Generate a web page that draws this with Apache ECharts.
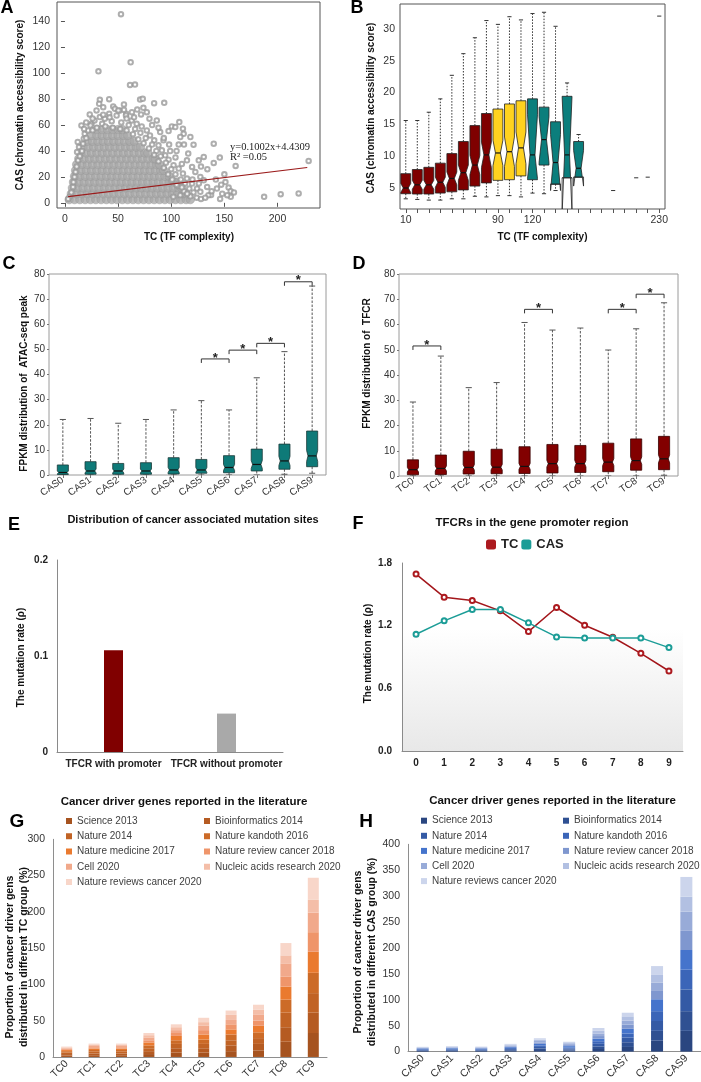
<!DOCTYPE html>
<html><head><meta charset="utf-8">
<script src="https://cdn.jsdelivr.net/npm/echarts@6/dist/echarts.min.js"></script>
<style>html,body{margin:0;padding:0;background:#fff}#c{width:701px;height:1082px}</style>
</head><body><div id="c"></div>
<script>
// ---------- Panel A : scatter ----------
const aTicksX = [0, 50, 100, 150, 200];
const aTicksY = [0, 20, 40, 60, 80, 100, 120, 140];
const aCoreRows = [
  [2.5, [4, 9, 14, 19, 24, 29, 34, 39, 44, 49, 54, 59, 64, 69, 74, 79, 84, 89, 94, 99, 104, 109, 114, 118]],
  [7, [6, 11, 16, 21, 26, 31, 36, 41, 46, 51, 56, 61, 66, 71, 76, 81, 86, 91, 96, 101, 106, 111, 114]],
  [11.5, [7, 12, 17, 22, 27, 32, 37, 42, 47, 52, 57, 62, 67, 72, 77, 82, 87, 92, 97, 102, 107, 110]],
  [16, [8, 13, 18, 23, 28, 33, 38, 43, 48, 53, 58, 63, 68, 73, 78, 83, 88, 93, 98, 103, 106]],
  [20.5, [9, 14, 19, 24, 29, 34, 39, 44, 49, 54, 59, 64, 69, 74, 79, 84, 89, 94, 98]],
  [25, [10, 15, 20, 25, 30, 35, 40, 45, 50, 55, 60, 65, 70, 75, 80, 85, 90, 93]],
  [29.5, [11, 16, 21, 26, 31, 36, 41, 46, 51, 56, 61, 66, 71, 76, 81, 86, 89]],
  [34, [13, 18, 23, 28, 33, 38, 43, 48, 53, 58, 63, 68, 73, 78, 83, 85]],
  [38.5, [15, 20, 25, 30, 35, 40, 45, 50, 55, 60, 65, 70, 75, 78]],
  [43, [17, 22, 27, 32, 37, 42, 47, 52, 57, 62, 67, 71]],
  [47.5, [21, 26, 31, 36, 41, 46, 51, 56, 61, 65]],
  [52, [25, 30, 35, 40, 45, 50, 55, 59]],
  [56.5, [30, 35, 40, 45, 50, 54]]
];
const aFringe = [
  [52.7,145.6],[61.8,108.5],[31.5,101.5],[61.2,91],[65.9,91.3],[32.8,79.5],[41.6,80],[32.2,76.4],[45.4,74.4],[55.5,75.9],
  [70.7,79.7],[73.2,80.3],[83.9,76.9],[93.4,77.2],[73.8,73.3],[77,70],[71.6,68.2],[79.5,64.9],[15.5,59.7],[23.3,68.2],
  [25,61],[29.7,71.3],[36,73.8],[51.7,71.3],[57.7,68.7],[48.6,67.4],[100.6,59],[107.6,62.3],[111,57.2],[111.7,53.3],
  [108.5,50.8],[118,50.8],[121,44.9],[112,45],[140,45.6],[140,30.8],[145.7,34.9],[150,22],[151,16],[154,11.8],
  [156,9],[160.6,28.5],[159,8],[156,4.6],[152.7,5.9],[143,11],[137.5,6],[133.8,12.3],[127.4,20],[130.6,35.4],
  [125.9,32.8],[114.8,32.8],[119.6,27.7],[122.7,23.8],[130.6,17.4],[135,5.9],[187.4,4.6],[203,6.7],[219.9,7.2],[229.3,32.3],
  [108.5,5.9],[102,4.6],[97.5,55.4],[92.7,48.2],[89.6,54.6],[103.8,58.5],[86.4,63.6],[4.4,4.6],[3,3],[7.6,12.3],
  [10,23.8],[12.3,32.8],[11.4,39.2],[13.2,43],[17,45.6],[17.7,49.5],[18.6,53.3],[21.8,55.9],[24,59.7],[27.8,63.6],
  [32.8,66.2],[37.5,64.9],[41.6,68.7],[47,72.6],[50.2,71.3],[55.5,71.8],[57.4,67.4],[62.8,63.6],[67.5,61],[72.2,59],
  [77,55.9],[80,52],[84,48.2],[88,44.4],[91.2,40.5],[94.3,36.7],[97.5,33.3],[102.2,29],[107,26.4],[111,22.6],
  [114.8,18.7],[119.6,14.9],[124.3,11],[127.4,8.5],[20,50],[26,56],[35,61],[44,63],[53,62],[60,60],
  [66,57],[71,54],[76,50],[82,45],[86,40],[90,36],[95,31],[100,26],[104,22],[109,18],
  [113,15],[117,11],[121,8],[124,4],[128,3],[118,5],[112,9],[106,13],[100,17],[6,8],
  [8,16],[9,20],[11,28],[14,36],[16,40],[45,58],[38,59],[30,58],[52,57],[58,56],
  [64,53],[69,49],[74,46],[79,42],[84,37],[88,32],[93,27],[97,22],[101,18],[105,14],
  [110,12],[115,7],[132,4],[138,9],[146,3],[116,38],[105,40],[98,45],[110,30],[120,18],
  [126,15],[134,26],[128,28],[142,18],[148,7],[147,14],[36,68],[42,66],[58,65],[65,66],
  [63,70],[26,65],[20,62],[18,57],[12,47],[68,72],[82,60],[88,58],[93,50],[99,40],[104,35],[107,45]
];
const aRegLine = [[3, 4.73], [228, 27.28]];

// ---------- Panel B : notched boxes by TC ----------
const bCats = ['10','20','30','40','50','60','70','80','90','100','110','120','130','140','150','160','170','180','190','200','210','220','230'];
const bTicksY = [5, 10, 15, 20, 25, 30];
const bHigh   = [15.6,15.6,16.9,19.0,22.7,26.1,28.6,31.3,30.7,31.9,31.4,32.4,32.6,30.4,21.5,13.4];
const bQ3     = [7.25,7.9,8.25,8.9,10.4,12.3,14.8,16.7,17.4,18.2,18.7,19.0,17.7,15.4,19.4,12.3];
const bMed    = [5.0,5.5,5.5,5.9,6.5,7.4,8.6,10.2,10.5,10.7,11.3,10.2,12.6,9.0,10.2,8.1];
const bQ1     = [4.1,4.05,4.05,4.2,4.4,4.7,5.3,5.8,6.2,6.3,6.9,6.3,8.6,5.6,6.6,6.7];
const bLow    = [3.3,3.2,3.1,3.1,3.3,3.3,3.7,3.6,3.8,3.8,3.6,4.2,4.1,4.6,6.6,6.7];
const bNotchLo= [4.3,4.8,4.8,5.1,5.5,6.2,7.1,8.2,8.5,8.4,8.8,6.5,9.0,4.6,1.0,5.3];
const bNotchHi= [5.7,6.2,6.2,6.7,7.5,8.6,10.1,12.2,12.5,13.0,13.8,16.5,16.2,13.4,19.4,10.9];
const bGroup  = [0,0,0,0,0,0,0,0,1,1,1,2,2,2,2,2];
const bSingleIdx = [18, 20, 21, 22];
const bSingleVal = [4.6, 6.6, 6.7, 32.0];

// ---------- Panel C : FPKM of ATAC-seq peak by CAS ----------
const cCats  = ['CAS0','CAS1','CAS2','CAS3','CAS4','CAS5','CAS6','CAS7','CAS8','CAS9'];
const cHigh  = [22.1,22.5,20.6,22.1,25.9,29.6,25.9,38.7,49.1,75.2];
const cQ3    = [4.0,5.3,4.6,4.9,6.9,6.2,7.7,10.3,12.3,17.5];
const cMed   = [1.0,1.6,1.6,1.6,2.0,2.0,3.0,4.2,5.6,7.6];
const cQ1    = [0.2,0.3,0.3,0.3,0.4,0.7,0.9,1.6,2.3,3.3];
const cLow   = [0,0,0,0,0,0,0,0,0.3,0.7];
const cNotch = [0.6,0.8,0.8,0.8,1.0,1.0,1.2,1.6,1.8,2.2];
const cSig   = [[5,6,46.2],[6,7,49.7],[7,8,52.4],[8,9,76.9]];

// ---------- Panel D : FPKM of TFCR by TC ----------
const dCats  = ['TC0','TC1','TC2','TC3','TC4','TC5','TC6','TC7','TC8','TC9'];
const dHigh  = [29.3,47.5,35.0,37.0,60.8,57.8,58.6,49.9,58.3,68.6];
const dQ3    = [6.4,8.3,9.8,10.6,11.6,12.5,12.1,13.0,14.7,15.7];
const dMed   = [2.5,3.0,3.4,3.5,3.8,4.9,4.9,5.5,6.1,6.8];
const dQ1    = [0.5,0.6,0.8,0.9,1.0,1.2,1.4,1.7,2.3,2.5];
const dLow   = [0,0,0,0,0,0,0,0,0,0.3];
const dNotch = [0.9,1.0,1.1,1.1,1.2,1.3,1.3,1.4,1.5,1.6];
const dSig   = [[0,1,51.5],[4,5,66],[7,8,66],[8,9,72]];

// ---------- Panel E ----------
const eCats = ['TFCR with promoter', 'TFCR without promoter'];
const eVals = [0.106, 0.040];

// ---------- Panel F ----------
const fCats = ['0','1','2','3','4','5','6','7','8','9'];
const fTC   = [1.694,1.473,1.441,1.342,1.143,1.374,1.204,1.089,0.935,0.766];
const fCAS  = [1.118,1.246,1.355,1.355,1.227,1.092,1.083,1.083,1.083,0.990];

// ---------- Panels G / H : stacked literature sources ----------
const sources = ['Science 2013','Bioinformatics 2014','Nature 2014','Nature kandoth 2016','Nature medicine 2017','Nature review cancer 2018','Cell 2020','Nucleic acids research 2020','Nature reviews cancer 2020'];
const gCats = ['TC0','TC1','TC2','TC3','TC4','TC5','TC6','TC7','TC8','TC9'];
const gScience2013  = [2,2.4,2.4,4,6,6,8,9,21,33];
const gBioinf2014   = [2,2.4,2.4,4,6,6,8,9,20,28];
const gNature2014   = [2,2.4,2.4,4,6,6,7,8,20,27];
const gKandoth2016  = [2,2.4,2.4,4,5,6,8,8,18,28];
const gNatMed2017   = [1.5,2,2,4,6,7,7,9,18,29];
const gNRC2018      = [1.2,1.8,1.8,3,4,6,7,7,14,27];
const gCell2020     = [1.2,1.8,1.8,4,4,6,6,8,18,27];
const gNAR2020      = [1.2,1.6,1.6,3,4,5,7,7,11,18];
const gNRC2020      = [1.2,1.6,1.6,3,4,6,6,7,17,30];
const hCats = ['CAS0','CAS1','CAS2','CAS3','CAS4','CAS5','CAS6','CAS7','CAS8','CAS9'];
const hScience2013  = [1.2,1.3,1.2,1.7,3,2,5,9,21,40];
const hBioinf2014   = [1.2,1.3,1.2,1.7,3,2,5,9,19,38];
const hNature2014   = [1.2,1.3,1.2,1.7,3,2,5,9,19,42];
const hKandoth2016  = [1.2,1.3,1.2,1.7,3,2,5,8,19,38];
const hNatMed2017   = [1.2,1.3,1.2,1.7,3,2.5,5,9,23,38];
const hNRC2018      = [0.8,1,0.9,1.6,2.7,2,5,8,16,37];
const hCell2020     = [0.8,1,0.9,1.6,2.7,2,5,8,16,37];
const hNAR2020      = [0.8,1,0.9,1.6,2.7,2,5,8,16,29];
const hNRC2020      = [0.8,1,0.9,1.6,2.6,2.5,5.5,7,16,38];

// ---------- styling ----------
const FF = '"Liberation Sans", Arial, sans-serif';
const gColors = ['#a6531f','#b55b22','#c16325','#cc6b28','#ea7a2f','#ef956a','#f1a98b','#f4bea8','#f8d6c9'];
const hColors = ['#2a4680','#2f5092','#345aa5','#3b65b8','#4574cc','#7f97cf','#98abd8','#b2c0e2','#ccd5ec'];
const gSeriesData = [gScience2013,gBioinf2014,gNature2014,gKandoth2016,gNatMed2017,gNRC2018,gCell2020,gNAR2020,gNRC2020];
const hSeriesData = [hScience2013,hBioinf2014,hNature2014,hKandoth2016,hNatMed2017,hNRC2018,hCell2020,hNAR2020,hNRC2020];

const aCore = aCoreRows.flatMap(([y, xs]) => xs.map(x => [x, y]));
const bBoxData = bMed.map((m, i) => [i, bLow[i], bQ1[i], bNotchLo[i], m, bNotchHi[i], bQ3[i], bHigh[i], bGroup[i]])
  .concat(bSingleIdx.map((k, j) => [k, bSingleVal[j], bSingleVal[j], bSingleVal[j], bSingleVal[j], bSingleVal[j], bSingleVal[j], bSingleVal[j], 0]));
const cBoxData = cMed.map((m, i) => [i, cLow[i], cQ1[i], m - cNotch[i], m, m + cNotch[i], cQ3[i], cHigh[i], 0]);
const dBoxData = dMed.map((m, i) => [i, dLow[i], dQ1[i], m - dNotch[i], m, m + dNotch[i], dQ3[i], dHigh[i], 0]);

function makeBox(opt) {
  return function (params, api) {
    const x = api.value(0);
    const low = api.value(1), q1 = api.value(2), nLo = api.value(3), med = api.value(4),
          nHi = api.value(5), q3 = api.value(6), high = api.value(7), grp = api.value(8);
    const band = api.size([1, 0])[0];
    const cx = api.coord([x, med])[0];
    const Y = v => api.coord([x, v])[1];
    const hw = band * opt.width / 2, iw = hw * opt.inner, cw = band * opt.cap / 2;
    const ch = [];
    if (q1 === q3) {
      ch.push({type: 'line', shape: {x1: cx - cw, y1: Y(med), x2: cx + cw, y2: Y(med)}, style: {stroke: '#333', lineWidth: 1}});
      return {type: 'group', children: ch};
    }
    const ws = {stroke: opt.whisker, lineWidth: 1, lineDash: opt.dash};
    const cs = {stroke: opt.whisker, lineWidth: 1};
    if (high > q3) {
      ch.push({type: 'line', shape: {x1: cx, y1: Y(q3), x2: cx, y2: Y(high)}, style: ws});
      ch.push({type: 'line', shape: {x1: cx - cw, y1: Y(high), x2: cx + cw, y2: Y(high)}, style: cs});
    }
    if (low < q1) {
      ch.push({type: 'line', shape: {x1: cx, y1: Y(q1), x2: cx, y2: Y(low)}, style: ws});
      ch.push({type: 'line', shape: {x1: cx - cw, y1: Y(low), x2: cx + cw, y2: Y(low)}, style: cs});
    }
    const yq1 = Y(q1), yq3 = Y(q3), ym = Y(med), ynl = Y(nLo), ynh = Y(nHi);
    const off = (yy, yEdge) => hw - (hw - iw) * ((yy - yEdge) / (ym - yEdge));
    const pts = [];
    if (nHi <= q3) pts.push([cx - hw, yq3], [cx - hw, ynh]); else pts.push([cx - off(yq3, ynh), yq3]);
    pts.push([cx - iw, ym]);
    if (nLo >= q1) pts.push([cx - hw, ynl], [cx - hw, yq1], [cx + hw, yq1], [cx + hw, ynl]);
    else { const o = off(yq1, ynl); pts.push([cx - o, yq1], [cx + o, yq1]); }
    pts.push([cx + iw, ym]);
    if (nHi <= q3) pts.push([cx + hw, ynh], [cx + hw, yq3]); else pts.push([cx + off(yq3, ynh), yq3]);
    ch.push({type: 'polygon', shape: {points: pts}, style: {fill: opt.colors[grp], stroke: opt.stroke, lineWidth: 0.8}});
    const ext = {fill: '#fff', stroke: '#222', lineWidth: 0.8};
    if (nLo < q1) {
      const o = off(yq1, ynl);
      ch.push({type: 'polygon', shape: {points: [[cx - hw, yq1], [cx - hw, ynl], [cx - o, yq1]]}, style: ext});
      ch.push({type: 'polygon', shape: {points: [[cx + hw, yq1], [cx + hw, ynl], [cx + o, yq1]]}, style: ext});
      ch.push({type: 'line', shape: {x1: cx - hw, y1: yq1, x2: cx + hw, y2: yq1}, style: {stroke: '#222', lineWidth: 0.8}});
    }
    if (nHi > q3) {
      const o = off(yq3, ynh);
      ch.push({type: 'polygon', shape: {points: [[cx - hw, yq3], [cx - hw, ynh], [cx - o, yq3]]}, style: ext});
      ch.push({type: 'polygon', shape: {points: [[cx + hw, yq3], [cx + hw, ynh], [cx + o, yq3]]}, style: ext});
    }
    ch.push({type: 'line', shape: {x1: cx - iw, y1: ym, x2: cx + iw, y2: ym}, style: {stroke: '#111', lineWidth: 1.2}});
    return {type: 'group', children: ch};
  };
}
function bracket(params, api) {
  const p1 = api.coord([api.value(0), api.value(2)]);
  const p2 = api.coord([api.value(1), api.value(2)]);
  const d = 4;
  return {type: 'group', children: [
    {type: 'polyline', shape: {points: [[p1[0], p1[1] + d], [p1[0], p1[1]], [p2[0], p2[1]], [p2[0], p2[1] + d]]},
     style: {stroke: '#333', lineWidth: 1, fill: 'none'}},
    {type: 'text', style: {text: '*', x: (p1[0] + p2[0]) / 2, y: p1[1] - 1, font: 'bold 13px ' + FF, fill: '#222',
      textAlign: 'center', align: 'center', textVerticalAlign: 'middle', verticalAlign: 'middle'}}
  ]};
}

function txt(text, x, y, font, opts) {
  opts = opts || {};
  return {type: 'text', x: x, y: y, rotation: opts.rot || 0, silent: true,
    style: {text: text, font: font, fill: opts.fill || '#111',
      textAlign: opts.align || 'center', align: opts.align || 'center',
      textVerticalAlign: 'middle', verticalAlign: 'middle', lineHeight: opts.lh}};
}
const R90 = Math.PI / 2;
const B10 = 'bold 10px ' + FF;

const tickLab = {fontSize: 10.5, color: '#333', fontFamily: FF};
const noSplit = {show: false};

const option = {
  animation: false,
  grid: [
    {left: 57, top: 2, width: 263, height: 206, show: true, borderColor: '#555', borderWidth: 1},
    {left: 400, top: 4, width: 265, height: 205, show: true, borderColor: '#555', borderWidth: 1},
    {left: 49, top: 274, width: 277, height: 201, show: true, borderColor: '#9a9a9a', borderWidth: 1},
    {left: 399, top: 274, width: 279, height: 202, show: true, borderColor: '#9a9a9a', borderWidth: 1},
    {left: 57, top: 560, width: 226, height: 192},
    {left: 402, top: 563, width: 281, height: 188, show: true, borderWidth: 0,
      backgroundColor: {type: 'linear', x: 0, y: 0, x2: 0, y2: 1, colorStops: [
        {offset: 0, color: '#ffffff'}, {offset: 0.35, color: '#ffffff'}, {offset: 1, color: '#e8e8e8'}]}},
    {left: 53, top: 839.3, width: 274, height: 218.4},
    {left: 408, top: 844.3, width: 293, height: 208.4}
  ],
  xAxis: [
    {gridIndex: 0, type: 'value', min: -7.5, max: 240, splitLine: noSplit, axisLine: {show: false},
      axisTick: {show: true, customValues: aTicksX, length: 4, lineStyle: {color: '#555'}},
      axisLabel: Object.assign({customValues: aTicksX, margin: 6}, tickLab)},
    {gridIndex: 1, type: 'category', data: bCats, splitLine: noSplit, axisLine: {show: false},
      axisTick: {show: true, alignWithLabel: true, interval: 0, length: 4, lineStyle: {color: '#555'}},
      axisLabel: Object.assign({interval: (i) => [0, 8, 11, 22].indexOf(i) >= 0, margin: 6}, tickLab)},
    {gridIndex: 2, type: 'category', data: cCats, axisLine: {show: false},
      axisTick: {show: true, alignWithLabel: true, length: 3, lineStyle: {color: '#777'}},
      axisLabel: {rotate: 35, fontSize: 10, color: '#333', fontFamily: FF, margin: 4, interval: 0}},
    {gridIndex: 3, type: 'category', data: dCats, axisLine: {show: false},
      axisTick: {show: true, alignWithLabel: true, length: 3, lineStyle: {color: '#777'}},
      axisLabel: {rotate: 35, fontSize: 10, color: '#333', fontFamily: FF, margin: 4, interval: 0}},
    {gridIndex: 4, type: 'category', data: eCats, axisLine: {lineStyle: {color: '#8a8a8a'}}, axisTick: {show: false},
      axisLabel: {fontSize: 10, fontWeight: 'bold', color: '#222', fontFamily: FF, margin: 7, interval: 0, hideOverlap: false}},
    {gridIndex: 5, type: 'category', data: fCats, axisLine: {lineStyle: {color: '#8a8a8a'}}, axisTick: {show: false},
      axisLabel: {fontSize: 10, fontWeight: 'bold', color: '#222', fontFamily: FF, margin: 7, interval: 0}},
    {gridIndex: 6, type: 'category', data: gCats, axisLine: {lineStyle: {color: '#8e8e8e'}}, axisTick: {show: false},
      axisLabel: {rotate: 45, fontSize: 10.5, color: '#333', fontFamily: FF, margin: 5, interval: 0}},
    {gridIndex: 7, type: 'category', data: hCats, axisLine: {lineStyle: {color: '#8e8e8e'}}, axisTick: {show: false},
      axisLabel: {rotate: 45, fontSize: 10.5, color: '#333', fontFamily: FF, margin: 5, interval: 0}}
  ],
  yAxis: [
    {gridIndex: 0, type: 'value', min: -4, max: 155, splitLine: noSplit, axisLine: {show: false},
      axisTick: {show: true, customValues: aTicksY, length: 4, lineStyle: {color: '#555'}},
      axisLabel: Object.assign({customValues: aTicksY, margin: 7}, tickLab)},
    {gridIndex: 1, type: 'value', min: 1.7, max: 33.9, splitLine: noSplit, axisLine: {show: false},
      axisTick: {show: false, customValues: bTicksY},
      axisLabel: Object.assign({customValues: bTicksY, margin: 5}, tickLab)},
    {gridIndex: 2, type: 'value', min: 0, max: 80, interval: 10, splitLine: noSplit, axisLine: {show: false},
      axisTick: {show: true, length: 2, lineStyle: {color: '#777'}},
      axisLabel: {fontSize: 10, color: '#333', fontFamily: FF, margin: 4}},
    {gridIndex: 3, type: 'value', min: 0, max: 80, interval: 10, splitLine: noSplit, axisLine: {show: false},
      axisTick: {show: true, length: 2, lineStyle: {color: '#777'}},
      axisLabel: {fontSize: 10, color: '#333', fontFamily: FF, margin: 4}},
    {gridIndex: 4, type: 'value', min: 0, max: 0.2, interval: 0.1, splitLine: noSplit,
      axisLine: {show: true, lineStyle: {color: '#8a8a8a'}}, axisTick: {show: false},
      axisLabel: {fontSize: 10, fontWeight: 'bold', color: '#222', fontFamily: FF, margin: 9,
        formatter: v => v === 0 ? '0' : v.toFixed(1)}},
    {gridIndex: 5, type: 'value', min: 0, max: 1.8, interval: 0.6, splitLine: noSplit,
      axisLine: {show: true, lineStyle: {color: '#8a8a8a'}}, axisTick: {show: false},
      axisLabel: {fontSize: 10, fontWeight: 'bold', color: '#222', fontFamily: FF, margin: 10,
        formatter: v => v.toFixed(1)}},
    {gridIndex: 6, type: 'value', min: 0, max: 300, interval: 50, splitLine: noSplit,
      axisLine: {show: true, lineStyle: {color: '#8e8e8e'}}, axisTick: {show: false},
      axisLabel: {fontSize: 10.5, color: '#333', fontFamily: FF, margin: 8}},
    {gridIndex: 7, type: 'value', min: 0, max: 400, interval: 50, splitLine: noSplit,
      axisLine: {show: true, lineStyle: {color: '#8e8e8e'}}, axisTick: {show: false},
      axisLabel: {fontSize: 10.5, color: '#333', fontFamily: FF, margin: 8}}
  ],
  legend: [
    {data: ['G:' + sources[0], 'G:' + sources[2], 'G:' + sources[4], 'G:' + sources[6], 'G:' + sources[8]]},
    {data: ['G:' + sources[1], 'G:' + sources[3], 'G:' + sources[5], 'G:' + sources[7]]},
    {data: ['H:' + sources[0], 'H:' + sources[2], 'H:' + sources[4], 'H:' + sources[6], 'H:' + sources[8]]},
    {data: ['H:' + sources[1], 'H:' + sources[3], 'H:' + sources[5], 'H:' + sources[7]]}
  ].map((l, i) => Object.assign(l, {
    orient: 'vertical', left: [66, 204, 421, 563][i], top: i < 2 ? 814.5 : 814.2, padding: 0,
    itemWidth: 6, itemHeight: 6, itemGap: i < 2 ? 2.25 : 2.1, icon: 'rect', selectedMode: false,
    formatter: n => n.slice(2),
    textStyle: {fontSize: 10, lineHeight: 13, color: '#404040', fontFamily: FF}
  })).concat([{
    data: ['TC', 'CAS'], left: 486, top: 538, padding: 0, itemWidth: 10, itemHeight: 10, itemGap: 3,
    icon: 'roundRect', selectedMode: false,
    textStyle: {fontSize: 13, fontWeight: 'bold', color: '#222', fontFamily: FF}
  }]),
  series: [
    {type: 'scatter', xAxisIndex: 0, yAxisIndex: 0, data: aCore, symbol: 'circle', symbolSize: 8.5, silent: true,
      itemStyle: {color: '#a9a9a9', borderColor: '#979797', borderWidth: 0.6}},
    {type: 'scatter', xAxisIndex: 0, yAxisIndex: 0, data: aFringe, symbol: 'emptyCircle', symbolSize: 4.5, silent: true,
      itemStyle: {color: '#9a9a9a', borderWidth: 0.7}},
    {type: 'line', xAxisIndex: 0, yAxisIndex: 0, data: aRegLine, symbol: 'none', silent: true,
      lineStyle: {color: '#9b1b1b', width: 1.2}},
    {type: 'custom', xAxisIndex: 1, yAxisIndex: 1, data: bBoxData, clip: true, silent: true,
      encode: {x: 0, y: [1, 7]},
      renderItem: makeBox({width: 0.86, inner: 0.5, cap: 0.36, whisker: '#333', dash: [1.5, 1.5], stroke: '#222',
        colors: ['#7f0000', '#ffd21f', '#0b7e7c']})},
    {type: 'custom', xAxisIndex: 2, yAxisIndex: 2, data: cBoxData, clip: true, silent: true,
      encode: {x: 0, y: [1, 7]},
      renderItem: makeBox({width: 0.4, inner: 0.75, cap: 0.22, whisker: '#555', dash: [2.5, 1.5], stroke: '#1c3b3a',
        colors: ['#0e7a78']})},
    {type: 'custom', xAxisIndex: 2, yAxisIndex: 2, data: cSig, silent: true, encode: {x: [0, 1], y: 2},
      renderItem: bracket},
    {type: 'custom', xAxisIndex: 3, yAxisIndex: 3, data: dBoxData, clip: true, silent: true,
      encode: {x: 0, y: [1, 7]},
      renderItem: makeBox({width: 0.4, inner: 0.75, cap: 0.22, whisker: '#555', dash: [2.5, 1.5], stroke: '#3a0000',
        colors: ['#820000']})},
    {type: 'custom', xAxisIndex: 3, yAxisIndex: 3, data: dSig, silent: true, encode: {x: [0, 1], y: 2},
      renderItem: bracket},
    {type: 'bar', xAxisIndex: 4, yAxisIndex: 4, barWidth: 19, silent: true,
      data: eVals.map((v, i) => ({value: v, itemStyle: {color: ['#800000', '#a9a9a9'][i]}}))},
    {name: 'TC', type: 'line', xAxisIndex: 5, yAxisIndex: 5, data: fTC, symbol: 'emptyCircle', symbolSize: 5,
      itemStyle: {color: '#ac1a1f'}, lineStyle: {color: '#a3161b', width: 1.5}, silent: true},
    {name: 'CAS', type: 'line', xAxisIndex: 5, yAxisIndex: 5, data: fCAS, symbol: 'emptyCircle', symbolSize: 5,
      itemStyle: {color: '#1c9d97'}, lineStyle: {color: '#1c9d97', width: 1.5}, silent: true}
  ].concat(
    gSeriesData.map((d, i) => ({name: 'G:' + sources[i], type: 'bar', stack: 'g', xAxisIndex: 6, yAxisIndex: 6,
      barWidth: 11, data: d, itemStyle: {color: gColors[i]}, silent: true})),
    hSeriesData.map((d, i) => ({name: 'H:' + sources[i], type: 'bar', stack: 'h', xAxisIndex: 7, yAxisIndex: 7,
      barWidth: 12, data: d, itemStyle: {color: hColors[i]}, silent: true}))
  ),
  graphic: [
    txt('A', 7, 8, 'bold 18px ' + FF, {fill: '#000'}),
    txt('B', 357, 8, 'bold 18px ' + FF, {fill: '#000'}),
    txt('C', 9, 264, 'bold 18px ' + FF, {fill: '#000'}),
    txt('D', 359, 264, 'bold 18px ' + FF, {fill: '#000'}),
    txt('E', 14, 525, 'bold 18px ' + FF, {fill: '#000'}),
    txt('F', 358, 524, 'bold 18px ' + FF, {fill: '#000'}),
    txt('G', 17, 822, 'bold 19px ' + FF, {fill: '#000'}),
    txt('H', 366, 822, 'bold 19px ' + FF, {fill: '#000'}),
    txt('CAS (chromatin accessibility score)', 20, 105, B10, {rot: R90}),
    txt('TC (TF complexity)', 189, 237.5, B10),
    txt('CAS (chromatin accessibility score)', 371, 108, B10, {rot: R90}),
    txt('TC (TF complexity)', 542.5, 237.5, B10),
    txt('FPKM distribution of  ATAC-seq peak', 24.5, 383.5, B10, {rot: R90}),
    txt('FPKM distribution of  TFCR', 367, 363.5, B10, {rot: R90}),
    txt('The mutation rate (\u03c1)', 21, 657.5, B10, {rot: R90}),
    txt('The mutation rate (\u03c1)', 368, 653.5, B10, {rot: R90}),
    txt('Proportion of cancer driver gens\ndistributed in different TC group (%)', 17, 957, 'bold 10.5px ' + FF, {rot: R90, lh: 14}),
    txt('Proportion of cancer driver gens\ndistributed in different CAS group (%)', 365.5, 952, 'bold 10.5px ' + FF, {rot: R90, lh: 14}),
    txt('Distribution of cancer associated mutation sites', 193, 520, 'bold 11px ' + FF),
    txt('TFCRs in the gene promoter region', 532, 523, 'bold 11.5px ' + FF),
    txt('Cancer driver genes reported in the literature', 184, 802, 'bold 11.5px ' + FF),
    txt('Cancer driver genes reported in the literature', 552.5, 801, 'bold 11.5px ' + FF),
    txt('y=0.1002x+4.4309', 230, 147, '10.5px "Liberation Serif", serif', {align: 'left', fill: '#222'}),
    txt('R\u00b2 =0.05', 230, 157.5, '10.5px "Liberation Serif", serif', {align: 'left', fill: '#222'})
  ]
};
const chart = echarts.init(document.getElementById('c'), null, {renderer: 'canvas'});
chart.setOption(option);
</script></body></html>
